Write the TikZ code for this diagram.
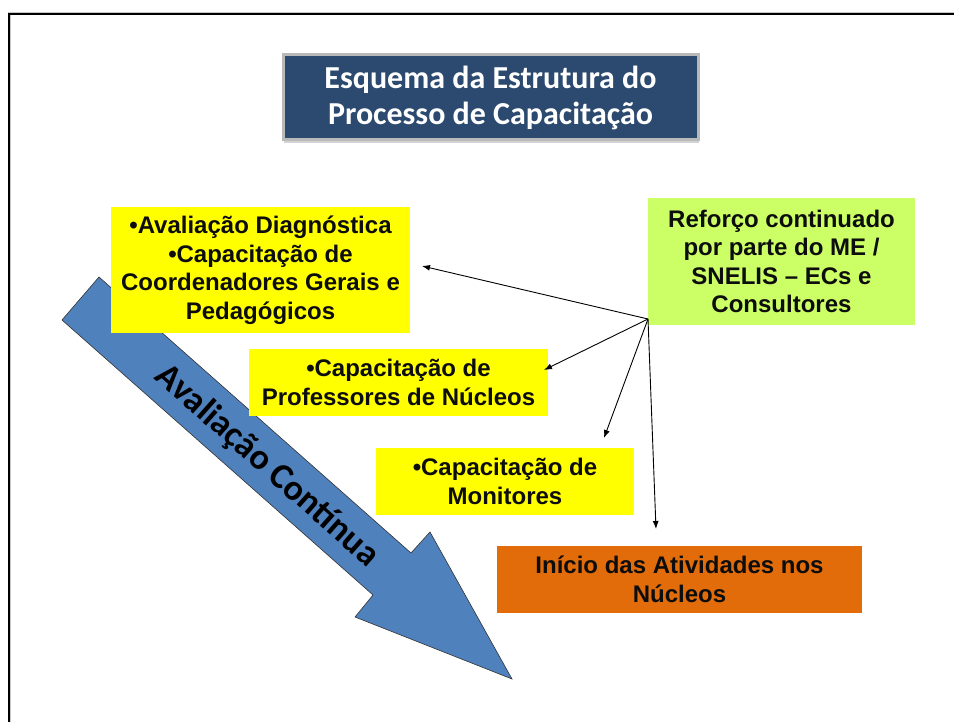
\documentclass[tikz,border=0pt]{standalone}
\usepackage{fontspec}
\setmainfont{Liberation Sans}
\newfontfamily\calibri{Carlito}
\usetikzlibrary{arrows.meta,shadows}

\definecolor{titleblue}{RGB}{44,74,111}
\definecolor{boxyellow}{RGB}{255,255,0}
\definecolor{boxgreen}{RGB}{204,255,102}
\definecolor{boxorange}{RGB}{226,108,10}
\definecolor{arrowblue}{RGB}{79,129,189}

\begin{document}
\begin{tikzpicture}[x=1pt, y=-1pt, >={Latex[length=8pt,width=6pt]},
    box/.style={inner sep=0pt, align=center, font=\fontsize{24}{28.5}\selectfont\bfseries, text=black!95},
    title/.style={inner sep=0pt, align=center, fill=titleblue, draw=gray!55, line width=3pt, text=white,
        font=\calibri\fontsize{32}{36}\selectfont\bfseries, drop shadow={shadow xshift=1pt, shadow yshift=-3pt, opacity=0.35}},
    link/.style={->, line width=0.9pt}]

    \useasboundingbox (0,0) rectangle (954,722);
    \clip (0,0) rectangle (954,722);

    % frame
    \draw[line width=3pt, gray!45] (9,740) -- (9,14) -- (970,14);
    \draw[line width=2.2pt] (9,740) -- (9,14) -- (970,14);

    \node[title, minimum width=415, minimum height=85] (titulo) at (490.5,97.5)
        {Esquema da Estrutura do\\Processo de Capacitação};

    % continuous evaluation arrow
    \draw[fill=arrowblue, draw=black!80, line width=0.6pt]
        (99,277) -- (411,553) -- (430,532) -- (512,679) -- (355,617) -- (373,595) -- (62,320) -- cycle;

    \node[box, fill=boxyellow, minimum width=299, minimum height=126] (coord) at (260.5,270)
        {•Avaliação Diagnóstica\\•Capacitação de\\Coordenadores Gerais e\\Pedagógicos};
    \node[box, fill=boxyellow, minimum width=299, minimum height=67] (prof) at (398.5,382.5)
        {•Capacitação de\\Professores de Núcleos};
    \node[box, fill=boxyellow, minimum width=258, minimum height=67] (monit) at (505,481.5)
        {•Capacitação de\\Monitores};
    \node[box, fill=boxgreen, minimum width=267, minimum height=127] (reforco) at (781.5,261.5)
        {Reforço continuado\\por parte do ME /\\SNELIS – ECs e\\Consultores};
    \node[box, fill=boxorange, minimum width=365, minimum height=67] (inicio) at (679.5,579.5)
        {Início das Atividades nos\\Núcleos};

    \node[rotate=-41.5, inner sep=0pt, font=\calibri\fontsize{36}{40}\selectfont\bfseries] (avcont) at (267,466)
        {Avaliação Contínua};

    \coordinate (src) at (648,319);
    \coordinate (t1) at (422,266);
    \coordinate (t2) at (544,370);
    \coordinate (t3) at (604,438);
    \coordinate (t4) at (656,529);

    \path
        (src) edge[link] (t1)
        (src) edge[link] (t2)
        (src) edge[link] (t3)
        (src) edge[link] (t4)
        ;
\end{tikzpicture}
\end{document}
